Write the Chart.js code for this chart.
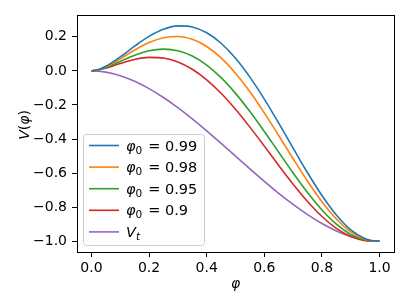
<!DOCTYPE html>
<html>
<head>
<meta charset="utf-8">
<script src="https://cdn.jsdelivr.net/npm/chart.js@4.4.1/dist/chart.umd.min.js"></script>
<style>
  body { margin: 0; background: #fff; }
  #wrap { width: 409px; height: 307px; }
</style>
</head>
<body>
<div id="wrap"><canvas id="potential-chart" width="409" height="307"></canvas></div>
<script>
"use strict";

// values
const phi = [0, 0.025, 0.05, 0.1, 0.15, 0.2, 0.25, 0.3, 0.35, 0.4, 0.45, 0.5,
  0.55, 0.6, 0.65, 0.7, 0.75, 0.8, 0.85, 0.9, 0.95, 0.975, 1];

const v099 = [0, 0.0080, 0.0268, 0.0820, 0.1450, 0.2023, 0.2441, 0.2640, 0.2580, 0.2241, 0.1623, 0.0744,
  -0.0364, -0.1654, -0.3067, -0.4534, -0.5979, -0.7317, -0.8463, -0.9332, -0.9853, -0.9971, -1];
const v098 = [0, 0.0071, 0.0236, 0.0706, 0.1222, 0.1662, 0.1946, 0.2020, 0.1852, 0.1431, 0.0761, -0.0135,
  -0.1225, -0.2464, -0.3795, -0.5155, -0.6474, -0.7677, -0.8691, -0.9446, -0.9885, -0.9979, -1];
const v095 = [0, 0.0060, 0.0193, 0.0553, 0.0914, 0.1177, 0.1280, 0.1184, 0.0871, 0.0339, -0.0399, -0.1319,
  -0.2386, -0.3555, -0.4775, -0.5990, -0.7140, -0.8162, -0.8999, -0.9599, -0.9928, -0.9990, -1];
const v090 = [0, 0.0051, 0.0160, 0.0432, 0.0671, 0.0795, 0.0755, 0.0525, 0.0098, -0.0522, -0.1315, -0.2253,
  -0.3301, -0.4416, -0.5549, -0.6649, -0.7665, -0.8545, -0.9242, -0.9720, -0.9961, -0.9999, -1];
const vt = [0, -0.0018, -0.0073, -0.0280, -0.0608, -0.1040, -0.1563, -0.2160, -0.2818, -0.3520, -0.4253, -0.5,
  -0.5748, -0.6480, -0.7183, -0.7840, -0.8438, -0.8960, -0.9393, -0.9720, -0.9928, -0.9982, -1];

const seriesLabels = ["φ₀ = 0.99", "φ₀ = 0.98", "φ₀ = 0.95", "φ₀ = 0.9", "Vₜ"];
// legend parts: [italic main, subscript, upright rest]
const legendParts = [["φ", "0", "= 0.99"], ["φ", "0", "= 0.98"], ["φ", "0", "= 0.95"], ["φ", "0", "= 0.9"], ["V", "t", ""]];
const colors = ["#1f77b4", "#ff7f0e", "#2ca02c", "#d62728", "#9467bd"];

const xTicks = [0, 0.2, 0.4, 0.6, 0.8, 1.0];
const yTicks = [-1.0, -0.8, -0.6, -0.4, -0.2, 0.0, 0.2];

const FONT = "DejaVu Sans";

function toPoints(values) {
  return phi.map((x, i) => ({ x: x, y: values[i] }));
}

function tickLabel(v) {
  return (v < 0 ? "\u2212" : "") + Math.abs(v).toFixed(1);
}

// axes frame, legend box and axis titles (matplotlib look)
const decorations = {
  id: "decorations",
  afterDraw(chart) {
    const ctx = chart.ctx;
    const a = chart.chartArea;
    ctx.save();

    // frame
    ctx.strokeStyle = "#000";
    ctx.lineWidth = 1;
    ctx.strokeRect(Math.round(a.left) + 0.5, Math.round(a.top) + 0.5,
      Math.round(a.right - a.left), Math.round(a.bottom - a.top));

    // legend
    const bx = 83.5, by = 134.5, bw = 121, bh = 111;
    ctx.beginPath();
    ctx.roundRect(bx, by, bw, bh, 3);
    ctx.fillStyle = "rgba(255,255,255,0.8)";
    ctx.fill();
    ctx.strokeStyle = "#cccccc";
    ctx.stroke();

    ctx.textBaseline = "alphabetic";
    legendParts.forEach((parts, i) => {
      const y = 145.5 + i * 21.6;
      ctx.strokeStyle = colors[i];
      ctx.lineWidth = 1.6;
      ctx.beginPath();
      ctx.moveTo(89, y);
      ctx.lineTo(119, y);
      ctx.stroke();

      ctx.fillStyle = "#000";
      let x = 126;
      const base = y + 5;
      ctx.font = "italic 14.5px '" + FONT + "'";
      ctx.fillText(parts[0], x, base);
      x += ctx.measureText(parts[0]).width;
      ctx.font = (parts[1] === "t" ? "italic " : "") + "10.5px '" + FONT + "'";
      ctx.fillText(parts[1], x, base + 3);
      x += ctx.measureText(parts[1]).width + 6;
      ctx.font = "14.5px '" + FONT + "'";
      ctx.fillText(parts[2], x, base);
    });

    // x title
    ctx.fillStyle = "#000";
    ctx.font = "italic 14px '" + FONT + "'";
    ctx.textAlign = "center";
    ctx.textBaseline = "middle";
    ctx.fillText("φ", (a.left + a.right) / 2, 284);

    // y title V(φ)
    ctx.translate(25, 125);
    ctx.rotate(-Math.PI / 2);
    const yParts = [["V", true], ["(", false], ["φ", true], [")", false]];
    let total = 0;
    yParts.forEach(p => {
      ctx.font = (p[1] ? "italic " : "") + "14px '" + FONT + "'";
      total += ctx.measureText(p[0]).width;
    });
    let px = -total / 2;
    ctx.textAlign = "left";
    yParts.forEach(p => {
      ctx.font = (p[1] ? "italic " : "") + "14px '" + FONT + "'";
      ctx.fillText(p[0], px, 0);
      px += ctx.measureText(p[0]).width;
    });
    ctx.restore();
  }
};

const allSeries = [v099, v098, v095, v090, vt];

const chartData = {
  datasets: allSeries.map((vals, i) => ({
    label: seriesLabels[i],
    data: toPoints(vals),
    borderColor: colors[i],
    backgroundColor: colors[i],
    borderWidth: 1.6,
    pointRadius: 0,
    fill: false,
    cubicInterpolationMode: "monotone",
  })),
};

const tickFont = { family: FONT, size: 14 };

const chart = new Chart(document.getElementById("potential-chart").getContext("2d"), {
  type: "line",
  data: chartData,
  options: {
    responsive: false,
    animation: false,
    layout: { padding: { left: 0, right: 15, top: 15, bottom: 0 } },
    plugins: {
      legend: { display: false },
      tooltip: { enabled: false },
    },
    scales: {
      x: {
        type: "linear",
        min: -0.05,
        max: 1.05,
        afterBuildTicks: axis => { axis.ticks = xTicks.map(v => ({ value: v })); },
        afterFit: axis => { axis.height = 55; },
        border: { display: false },
        grid: { drawOnChartArea: false, drawTicks: true, tickLength: 5, color: "#000", tickWidth: 1 },
        ticks: { color: "#000", font: tickFont, padding: 3, maxRotation: 0, autoSkip: false, callback: tickLabel },
      },
      y: {
        type: "linear",
        min: -1.063,
        max: 0.328,
        afterBuildTicks: axis => { axis.ticks = yTicks.map(v => ({ value: v })); },
        afterFit: axis => { axis.width = 77; },
        border: { display: false },
        grid: { drawOnChartArea: false, drawTicks: true, tickLength: 5, color: "#000", tickWidth: 1 },
        ticks: { color: "#000", font: tickFont, padding: 5, autoSkip: false, callback: tickLabel },
      },
    },
  },
  plugins: [decorations],
});
</script>
</body>
</html>
